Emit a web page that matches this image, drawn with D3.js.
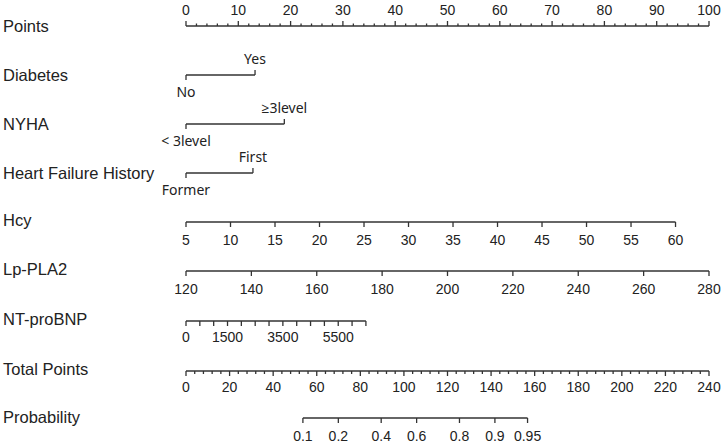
<!DOCTYPE html>
<html>
<head>
<meta charset="utf-8">
<script src="https://cdn.jsdelivr.net/npm/d3@7"></script>
<style>
  body { margin: 0; background: #fff; }
  svg { display: block; }
  .row-label { font-family: Arial, "Liberation Sans", sans-serif; font-size: 16.5px; fill: #222; }
  .tick-label { font-family: Arial, "Liberation Sans", sans-serif; font-size: 14px; fill: #222; }
  .cat-label { font-family: "Noto Sans", "Open Sans", sans-serif; font-size: 14px; fill: #222; }
  .axis-line { stroke: #333; stroke-width: 1.3; fill: none; }
</style>
</head>
<body>
<svg id="chart" width="724" height="443"></svg>
<script>
// ---- data ----
const pointTicks = [0, 10, 20, 30, 40, 50, 60, 70, 80, 90, 100];

const diabetesLevels = ["No", "Yes"];
const diabetesPoints = [0, 13.2];

const nyhaLevels = ["< 3level", "≥3level"];
const nyhaPoints = [0, 18.8];

const hfLevels = ["Former", "First"];
const hfPoints = [0, 12.8];

const hcyTicks = [5, 10, 15, 20, 25, 30, 35, 40, 45, 50, 55, 60];
const hcyPoints = [0, 93.6];          // points at 5 and 60

const lpTicks = [120, 140, 160, 180, 200, 220, 240, 260, 280];
const lpPoints = [0, 100];            // points at 120 and 280

const ntTicks = [0, 500, 1000, 1500, 2000, 2500, 3000, 3500, 4000, 4500, 5000, 5500, 6000, 6500];
const ntLabels = [0, 1500, 3500, 5500];
const ntPoints = [0, 34.4];           // points at 0 and 6500

const totalTicks = [0, 20, 40, 60, 80, 100, 120, 140, 160, 180, 200, 220, 240];

const probTicks = [0.1, 0.2, 0.4, 0.6, 0.8, 0.9, 0.95];
// total points = tpAtHalf + tpPerLogit * logit(p)
const tpAtHalf = 97.7;
const tpPerLogit = 20.05;

// ---- layout ----
const svg = d3.select("#chart");
const x0 = 186, x1 = 709;
const pts = d3.scaleLinear().domain([0, 100]).range([x0, x1]);
const total = d3.scaleLinear().domain([0, 240]).range([x0, x1]);

function rowLabel(text, y) {
    svg.append("text").attr("class", "row-label")
        .attr("x", 3).attr("y", y).attr("dy", "0.35em").text(text);
}

function line(xa, xb, y) {
    svg.append("line").attr("class", "axis-line")
        .attr("x1", xa).attr("x2", xb).attr("y1", y).attr("y2", y);
}

function ticks(xs, y, len) {
    svg.append("g").selectAll("line").data(xs).join("line")
        .attr("class", "axis-line")
        .attr("x1", d => d).attr("x2", d => d)
        .attr("y1", y).attr("y2", y + len);
}

function labels(items, y, cls) {
    svg.append("g").selectAll("text").data(items).join("text")
        .attr("class", cls || "tick-label")
        .attr("x", d => d.x).attr("y", y)
        .attr("dy", "0.35em").attr("text-anchor", "middle")
        .text(d => d.t);
}

// continuous axis: value -> points -> pixel
function continuousAxis(name, tickVals, labelVals, pointRange, yLine, yLab) {
    const s = d3.scaleLinear()
        .domain([tickVals[0], tickVals[tickVals.length - 1]])
        .range(pointRange.map(pts));
    rowLabel(name, yLine - 2);
    line(s(tickVals[0]), s(tickVals[tickVals.length - 1]), yLine);
    ticks(tickVals.map(s), yLine, 5);
    labels(labelVals.map(v => ({ x: s(v), t: v })), yLab);
}

// categorical axis: two levels, first below, second above
function categoricalAxis(name, levels, points, yLine) {
    const xs = points.map(pts);
    rowLabel(name, yLine);
    line(xs[0], xs[1], yLine);
    ticks([xs[0]], yLine, 5);
    ticks([xs[1]], yLine, -5);
    labels([{ x: xs[0], t: levels[0] }], yLine + 17, "cat-label");
    labels([{ x: xs[1], t: levels[1] }], yLine - 16, "cat-label");
}

// Points
rowLabel("Points", 26);
line(pts(0), pts(100), 26);
ticks(d3.range(0, 101, 2).filter(v => v % 10 !== 0).map(pts), 26, -2.5);
ticks(pointTicks.map(pts), 26, -5);
labels(pointTicks.map(v => ({ x: pts(v), t: v })), 10);

categoricalAxis("Diabetes", diabetesLevels, diabetesPoints, 75);
categoricalAxis("NYHA", nyhaLevels, nyhaPoints, 124);
categoricalAxis("Heart Failure History", hfLevels, hfPoints, 173);

continuousAxis("Hcy", hcyTicks, hcyTicks, hcyPoints, 222, 240);
continuousAxis("Lp-PLA2", lpTicks, lpTicks, lpPoints, 271, 289);
continuousAxis("NT-proBNP", ntTicks, ntLabels, ntPoints, 321, 337);

// Total Points
rowLabel("Total Points", 369);
line(total(0), total(240), 371);
ticks(d3.range(0, 241, 4).filter(v => v % 20 !== 0).map(total), 371, 3);
ticks(totalTicks.map(total), 371, 5);
labels(totalTicks.map(v => ({ x: total(v), t: v })), 387);

// Probability
const logit = p => Math.log(p / (1 - p));
const probX = p => total(tpAtHalf + tpPerLogit * logit(p));
rowLabel("Probability", 417);
line(probX(probTicks[0]), probX(probTicks[probTicks.length - 1]), 418);
ticks(probTicks.map(probX), 418, 5);
labels(probTicks.map(p => ({ x: probX(p), t: p })), 436);
</script>
</body>
</html>
